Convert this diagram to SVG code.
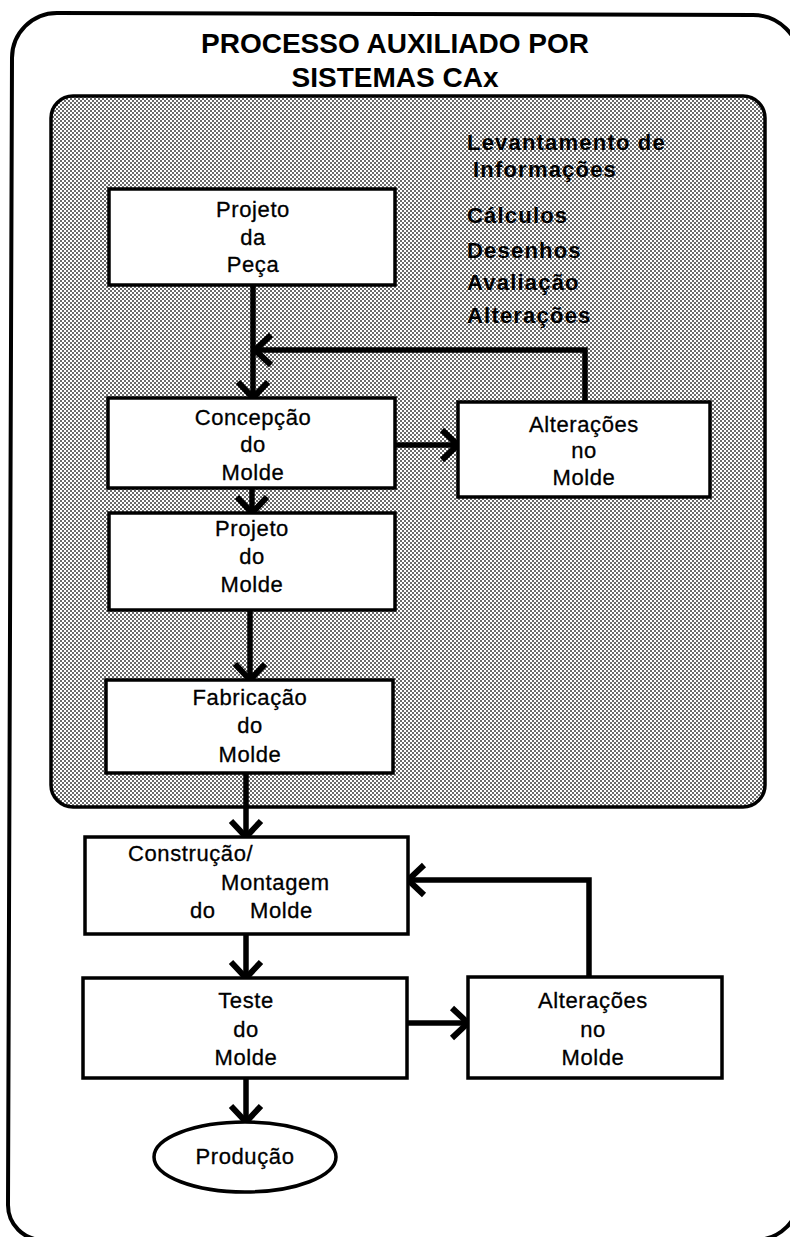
<svg xmlns="http://www.w3.org/2000/svg" width="790" height="1237" viewBox="0 0 790 1237">
  <defs>
    <!-- fine halftone screen used for the CAx region -->
    <pattern id="screen" width="4" height="4" patternUnits="userSpaceOnUse">
      <rect width="4" height="4" fill="#ffffff"/>
      <rect x="0" y="0" width="2" height="2" fill="#6a6a6a"/>
      <rect x="2" y="2" width="2" height="2" fill="#6a6a6a"/>
    </pattern>
    <marker id="chev" viewBox="0 0 24 36" refX="20" refY="18" markerWidth="24" markerHeight="36" markerUnits="userSpaceOnUse" orient="auto">
      <path d="M4,3 L20,18 L4,33" fill="none" stroke="#000" stroke-width="6"/>
    </marker>
    <style>
      .box { fill: #fff; stroke: #000; stroke-width: 3.5; }
      .lbl { font-family: "Liberation Sans", Arial, sans-serif; font-size: 22px; fill: #000; stroke: #000; stroke-width: 0.3; text-anchor: middle; letter-spacing: 0.6px; }
      .side { font-family: "Liberation Sans", Arial, sans-serif; font-size: 22px; font-weight: bold; fill: #000; letter-spacing: 1.2px; }
      .title { font-family: "Liberation Sans", Arial, sans-serif; font-size: 28px; font-weight: bold; fill: #000; text-anchor: middle; }
      .conn { fill: none; stroke: #000; stroke-width: 5.5; }
    </style>
  </defs>

  <rect width="790" height="1237" fill="#fff"/>

  <!-- outer frame -->
  <g id="frame">
    <path d="M8,1205 L12,58 A45,45 0 0 1 57,13 L753,15 A47,47 0 0 1 800,62 L800,1195 A45,45 0 0 1 755,1240 L43,1240 A35,35 0 0 1 8,1205 Z" fill="none" stroke="#000" stroke-width="4"/>
    <text class="title" x="395" y="53">PROCESSO AUXILIADO POR</text>
    <text class="title" x="395" y="87">SISTEMAS CAx</text>
  </g>

  <!-- shaded CAx region -->
  <g id="cax-region">
    <rect x="51" y="96" width="714" height="711" rx="22" ry="22" fill="url(#screen)" stroke="#000" stroke-width="3.5"/>
    <text class="side" x="467" y="150">Levantamento de</text>
    <text class="side" x="473" y="177">Informações</text>
    <text class="side" x="467" y="223">Cálculos</text>
    <text class="side" x="467" y="258">Desenhos</text>
    <text class="side" x="467" y="290">Avaliação</text>
    <text class="side" x="467" y="323">Alterações</text>
  </g>

  <!-- connectors -->
  <g id="connectors">
    <path class="conn" d="M253,285 L253,398" marker-end="url(#chev)"/>
    <path class="conn" d="M585,402 L585,350 L255,350" marker-end="url(#chev)"/>
    <path class="conn" d="M395,445 L458,445" marker-end="url(#chev)"/>
    <path class="conn" d="M252,488 L252,513" marker-end="url(#chev)"/>
    <path class="conn" d="M250,610 L250,680" marker-end="url(#chev)"/>
    <path class="conn" d="M246,773 L246,837" marker-end="url(#chev)"/>
    <path class="conn" d="M246,934 L246,978" marker-end="url(#chev)"/>
    <path class="conn" d="M407,1023 L468,1023" marker-end="url(#chev)"/>
    <path class="conn" d="M589,977 L589,880 L408,880" marker-end="url(#chev)"/>
    <path class="conn" d="M246,1078 L246,1122" marker-end="url(#chev)"/>
  </g>

  <g id="projeto-peca">
    <rect class="box" x="109" y="189" width="286" height="96"/>
    <text class="lbl" x="253" y="217">Projeto</text>
    <text class="lbl" x="253" y="245">da</text>
    <text class="lbl" x="253" y="272">Peça</text>
  </g>

  <g id="concepcao-molde">
    <rect class="box" x="108" y="398" width="287" height="90"/>
    <text class="lbl" x="253" y="425">Concepção</text>
    <text class="lbl" x="253" y="452">do</text>
    <text class="lbl" x="253" y="480">Molde</text>
  </g>

  <g id="alteracoes-cax">
    <rect class="box" x="458" y="402" width="252" height="95"/>
    <text class="lbl" x="584" y="432">Alterações</text>
    <text class="lbl" x="584" y="458">no</text>
    <text class="lbl" x="584" y="485">Molde</text>
  </g>

  <g id="projeto-molde">
    <rect class="box" x="109" y="513" width="286" height="97"/>
    <text class="lbl" x="252" y="536">Projeto</text>
    <text class="lbl" x="252" y="564">do</text>
    <text class="lbl" x="252" y="592">Molde</text>
  </g>

  <g id="fabricacao-molde">
    <rect class="box" x="106" y="680" width="287" height="93"/>
    <text class="lbl" x="250" y="705">Fabricação</text>
    <text class="lbl" x="250" y="733">do</text>
    <text class="lbl" x="250" y="762">Molde</text>
  </g>

  <g id="construcao-molde">
    <rect class="box" x="85" y="837" width="323" height="97"/>
    <text class="lbl" x="128" y="861" style="text-anchor:start">Construção/</text>
    <text class="lbl" x="221" y="890" style="text-anchor:start">Montagem</text>
    <text class="lbl" x="190" y="918" style="text-anchor:start">do</text>
    <text class="lbl" x="250" y="918" style="text-anchor:start">Molde</text>
  </g>

  <g id="teste-molde">
    <rect class="box" x="83" y="978" width="324" height="100"/>
    <text class="lbl" x="246" y="1008">Teste</text>
    <text class="lbl" x="246" y="1037">do</text>
    <text class="lbl" x="246" y="1065">Molde</text>
  </g>

  <g id="alteracoes-molde">
    <rect class="box" x="468" y="977" width="254" height="101"/>
    <text class="lbl" x="593" y="1008">Alterações</text>
    <text class="lbl" x="593" y="1037">no</text>
    <text class="lbl" x="593" y="1065">Molde</text>
  </g>

  <g id="producao">
    <ellipse cx="245" cy="1157" rx="91" ry="35" fill="#fff" stroke="#000" stroke-width="3.5"/>
    <text class="lbl" x="245" y="1164">Produção</text>
  </g>
</svg>
